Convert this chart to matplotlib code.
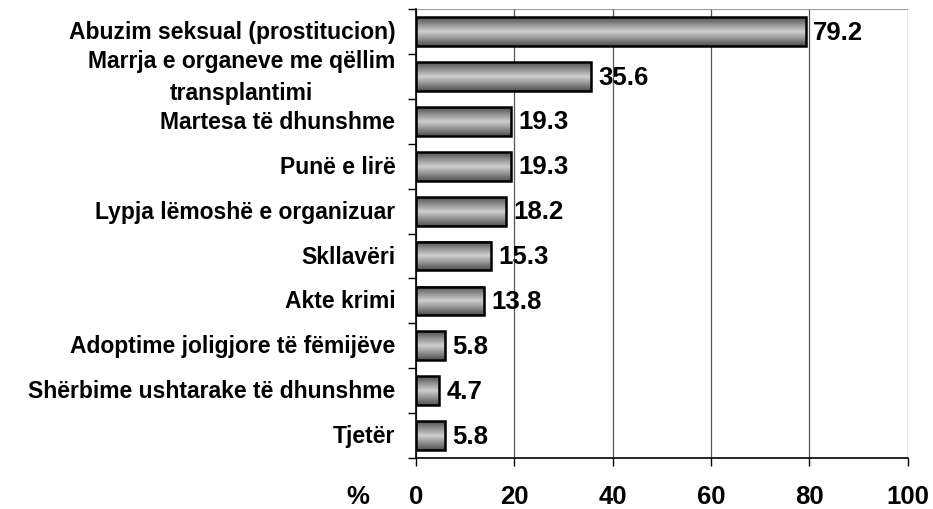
import numpy as np
import matplotlib.pyplot as plt
from matplotlib.colors import LinearSegmentedColormap

categories = ["Abuzim seksual (prostitucion)",
              "Marrja e organeve me qëllim\ntransplantimi",
              "Martesa të dhunshme",
              "Punë e lirë",
              "Lypja lëmoshë e organizuar",
              "Skllavëri",
              "Akte krimi",
              "Adoptime joligjore të fëmijëve",
              "Shërbime ushtarake të dhunshme",
              "Tjetër"]
values = [79.2, 35.6, 19.3, 19.3, 18.2, 15.3, 13.8, 5.8, 4.7, 5.8]
xticks = [0, 20, 40, 60, 80, 100]

plt.rcParams['font.family'] = ['Liberation Sans', 'DejaVu Sans']
plt.rcParams['font.weight'] = 'bold'

fig = plt.figure(figsize=(9.33, 5.10), dpi=100)
ax = fig.add_axes([0.446, 0.100, 0.527, 0.880])

n = len(categories)
ypos = np.arange(n)
h = 0.64

# grey shading: dark edges, light centre
cmap = LinearSegmentedColormap.from_list("bar", ["#505050", "#d0d0d0", "#505050"])
grad = np.linspace(0, 1, 64).reshape(-1, 1)
for y, v in zip(ypos, values):
    ax.imshow(grad, cmap=cmap, aspect='auto', extent=(0, v, y + h / 2, y - h / 2),
              zorder=2, interpolation='bicubic')
ax.barh(ypos, values, height=h, fill=False, edgecolor='black', linewidth=1.8, zorder=3)

for y, v in zip(ypos, values):
    ax.text(v + 1.5, y, f"{v:.1f}", va='center', ha='left', fontsize=18.5, fontweight='bold')

ax.set_xlim(0, 100)
ax.set_ylim(n - 0.5, -0.5)
ax.set_xticks(xticks)
ax.set_xticklabels([str(t) for t in xticks], fontsize=18.5, fontweight='bold')
ax.tick_params(axis='x', pad=13, length=6, width=1)
ax.xaxis.grid(True, color='#555555', linewidth=0.9, zorder=0)
ax.set_axisbelow(True)

ax.set_yticks(ypos)
ax.set_yticklabels(categories, fontsize=16.5, fontweight='bold', ha='right', va='center',
                   multialignment='center', linespacing=1.45)
ax.tick_params(axis='y', length=0, pad=15)
ax.set_yticks(np.arange(n + 1) - 0.5, minor=True)
ax.tick_params(axis='y', which='minor', length=6, width=1)

for s in ['right', 'top']:
    ax.spines[s].set_visible(False)
ax.spines['left'].set_linewidth(1.2)
ax.spines['bottom'].set_linewidth(1.2)
ax.axhline(-0.5, color='#999999', linewidth=1.5, zorder=1)

fig.text(0.384, 0.025, "%", fontsize=18.5, fontweight='bold', ha='center', va='center')

fig.savefig("out.png", dpi=100)
